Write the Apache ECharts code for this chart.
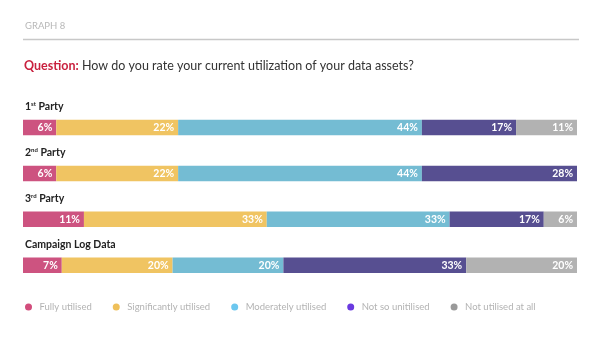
<!DOCTYPE html>
<html>
<head>
<meta charset="utf-8">
<script src="https://cdn.jsdelivr.net/npm/echarts@6/dist/echarts.min.js"></script>
<style>
  html, body { margin: 0; padding: 0; background: #ffffff; }
  #chart { width: 600px; height: 337px; }
</style>
</head>
<body>
<div id="chart"></div>
<script>
// Data sources
const categories = ['1st Party', '2nd Party', '3rd Party', 'Campaign Log Data'];
const seriesNames = ['Fully utilised', 'Significantly utilised', 'Moderately utilised', 'Not so unitilised', 'Not utilised at all'];
const fullyUtilised = [6, 6, 11, 7];
const significantlyUtilised = [22, 22, 33, 20];
const moderatelyUtilised = [44, 44, 33, 20];
const notSoUtilised = [17, 28, 17, 33];
const notUtilisedAtAll = [11, null, 6, 20];

const barColors = ['#cd5380', '#f0c462', '#74bcd3', '#574f91', '#b2b2b2'];
const legendColors = ['#d24d7c', '#efc05a', '#6cc7ef', '#6a3ae0', '#9a9a9a'];

const FONT = 'Lato, "Open Sans", sans-serif';
const values = [fullyUtilised, significantlyUtilised, moderatelyUtilised, notSoUtilised, notUtilisedAtAll];

const chart = echarts.init(document.getElementById('chart'), null, { renderer: 'canvas' });

const option = {
  backgroundColor: '#ffffff',
  animation: false,
  title: [
    {
      text: 'GRAPH 8',
      left: 25, top: 21, padding: 0,
      textStyle: { fontFamily: FONT, fontSize: 9.5, fontWeight: 'normal', color: '#b8b8b8' }
    },
    {
      text: '{q|Question:}{t| How do you rate your current utilization of your data assets?}',
      left: 24, top: 59, padding: 0,
      textStyle: {
        rich: {
          q: { fontFamily: FONT, fontSize: 12.5, fontWeight: 'bold', color: '#c9213f' },
          t: { fontFamily: FONT, fontSize: 12.5, fontWeight: 'normal', color: '#333333' }
        }
      }
    }
  ],
  graphic: [
    {
      type: 'line',
      shape: { x1: 23, y1: 39.5, x2: 579, y2: 39.5 },
      style: { stroke: '#c8c8c8', lineWidth: 1.5 }
    }
  ],
  legend: {
    left: 25, top: 302, padding: 0,
    itemWidth: 12, itemHeight: 7, itemGap: 21,
    icon: 'circle',
    textStyle: { fontFamily: FONT, fontSize: 9.5, color: '#b3b3b3' },
    data: seriesNames.map((n, i) => ({ name: n, itemStyle: { color: legendColors[i] } }))
  },
  grid: { left: 23, right: 23, top: 104.5, bottom: 48.8, containLabel: false },
  xAxis: { type: 'value', min: 0, max: 100, show: false },
  yAxis: {
    type: 'category',
    inverse: true,
    data: categories,
    axisLine: { show: false },
    axisTick: { show: false },
    splitLine: { show: false },
    axisLabel: {
      inside: true,
      margin: 2,
      verticalAlign: 'middle',
      padding: [0, 0, 41, 0],
      formatter: function (v) {
        const m = v.match(/^(\d)(st|nd|rd) (.*)$/);
        if (m) return '{b|' + m[1] + '}{s|' + m[2] + '}{b| ' + m[3] + '}';
        return '{b|' + v + '}';
      },
      rich: {
        b: { fontFamily: FONT, fontSize: 10.5, fontWeight: 'bold', color: '#222222', lineHeight: 12 },
        s: { fontFamily: FONT, fontSize: 6, fontWeight: 'bold', color: '#222222', lineHeight: 12, verticalAlign: 'top', padding: [0, 0, 4, 0] }
      }
    }
  },
  series: seriesNames.map((name, i) => ({
    name: name,
    type: 'bar',
    stack: 'total',
    barWidth: 15.5,
    itemStyle: { color: barColors[i] },
    label: {
      show: true,
      position: 'insideRight',
      distance: 4,
      formatter: '{c}%',
      fontFamily: FONT,
      fontSize: 10.5,
      fontWeight: 'bold',
      color: '#ffffff'
    },
    emphasis: { disabled: true },
    data: values[i]
  }))
};

chart.setOption(option);
</script>
</body>
</html>
